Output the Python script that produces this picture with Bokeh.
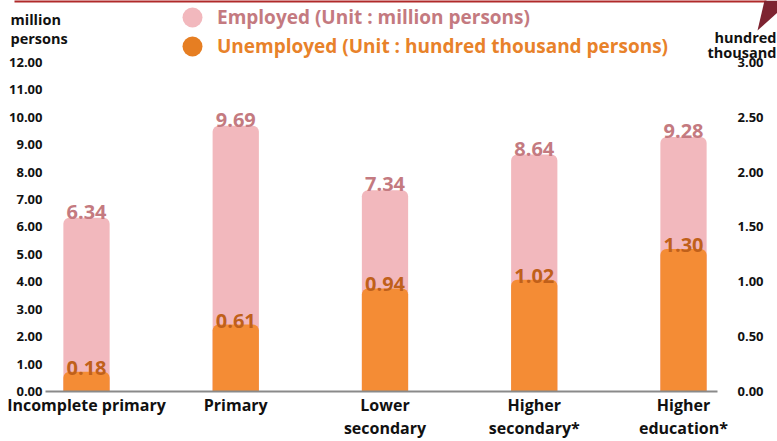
from bokeh.plotting import figure
from bokeh.models import (Range1d, LinearAxis, FixedTicker, PrintfTickFormatter, ColumnDataSource,
                          Label, Legend, LegendItem, PolyAnnotation, BoxAnnotation)
from bokeh.core.properties import value
from bokeh.embed import file_html
from bokeh.resources import INLINE

categories = ["Incomplete primary", "Primary", "Lower\nsecondary", "Higher\nsecondary*", "Higher\neducation*"]
employed = [6.34, 9.69, 7.34, 8.64, 9.28]          # million persons
unemployed = [0.18, 0.61, 0.94, 1.02, 1.30]        # hundred thousand persons
left_ticks = [0, 1, 2, 3, 4, 5, 6, 7, 8, 9, 10, 11, 12]
right_ticks = [0, 0.5, 1.0, 1.5, 2.0, 2.5, 3.0]

FONT = "Open Sans"
PINK = "#f2b8bd"
PINK_TXT = "#c47a80"
ORANGE = "#f48c35"
ORANGE_TXT = "#c0601a"
ORANGE_LEG = "#e8822a"
DARKRED = "#7d2431"
LINE_RED = "#b02a2a"

idx = list(range(len(categories)))
src = ColumnDataSource(dict(
    x=idx, emp=employed, unemp=unemployed,
    emp_lbl=[f"{v:.2f}" for v in employed],
    unemp_lbl=[f"{v:.2f}" for v in unemployed],
))

YTOP = 14.261
p = figure(width=777, height=441, output_backend="svg", toolbar_location=None,
           x_range=Range1d(-0.5762, 4.6298), y_range=Range1d(0, YTOP),
           min_border_left=0, min_border_right=0, min_border_top=0, min_border_bottom=50,
           y_axis_location=None)
p.extra_y_ranges = {"u": Range1d(0, YTOP / 4)}
p.outline_line_color = None
p.xgrid.visible = False
p.ygrid.visible = False

# bars
p.vbar(x="x", top="emp", width=0.31, bottom=0, source=src, fill_color=PINK, line_color=None,
       border_radius=(6, 6, 0, 0))
p.vbar(x="x", top="unemp", width=0.31, bottom=0, source=src, fill_color=ORANGE, line_color=None,
       border_radius=(6, 6, 0, 0), y_range_name="u")

# value labels
p.text(x="x", y="emp", text="emp_lbl", source=src, text_align="center", text_baseline="alphabetic",
       y_offset=-6, text_font=value(FONT), text_font_style="bold", text_font_size="20px",
       text_color=PINK_TXT)
p.text(x="x", y="unemp", text="unemp_lbl", source=src, text_align="center", text_baseline="alphabetic",
       y_offset=-4, text_font=value(FONT), text_font_style="bold", text_font_size="20px",
       text_color=ORANGE_TXT, y_range_name="u")

# y axes (labels pulled inward so the plot frame spans the full canvas)
la = LinearAxis(ticker=FixedTicker(ticks=left_ticks), formatter=PrintfTickFormatter(format="%.2f"))
ra = LinearAxis(y_range_name="u", ticker=FixedTicker(ticks=right_ticks),
                formatter=PrintfTickFormatter(format="%.2f"))
for ax, so in ((la, -42), (ra, -40)):
    ax.axis_line_color = None
    ax.major_tick_line_color = None
    ax.minor_tick_line_color = None
    ax.major_tick_out = 0
    ax.major_tick_in = 0
    ax.major_label_standoff = so
    ax.major_label_text_font = FONT
    ax.major_label_text_font_style = "bold"
    ax.major_label_text_font_size = "13px"
    ax.major_label_text_color = "#111111"
p.add_layout(la, "left")
p.add_layout(ra, "right")

# x axis with category labels
xa = p.xaxis[0]
xa.ticker = FixedTicker(ticks=idx)
xa.bounds = (-0.275, 4.228)
xa.major_label_overrides = {i: c for i, c in zip(idx, categories)}
xa.axis_line_color = "#8a8a8a"
xa.axis_line_width = 2
xa.major_tick_line_color = None
xa.minor_tick_line_color = None
xa.major_tick_out = 0
xa.major_tick_in = 0
xa.major_label_standoff = 2
xa.major_label_text_font = FONT
xa.major_label_text_font_style = "bold"
xa.major_label_text_font_size = "16px"
xa.major_label_text_color = "#111111"
xa.major_label_text_line_height = 1.05

# axis titles
p.add_layout(Label(x=10, y=382, x_units="screen", y_units="screen", text="million\npersons",
                   text_align="left", text_baseline="top", text_font=FONT, text_font_style="bold",
                   text_font_size="14.5px", text_color="#111111", text_line_height=1.0))
p.add_layout(Label(x=776, y=364, x_units="screen", y_units="screen", text="hundred\nthousand",
                   text_align="right", text_baseline="top", text_font=FONT, text_font_style="bold",
                   text_font_size="14.5px", text_color="#111111", text_line_height=0.8))

# legend
nan = float("nan")
r_emp = p.scatter(x=[nan], y=[nan], marker="circle", size=20, fill_color=PINK, line_color=None)
r_un = p.scatter(x=[nan], y=[nan], marker="circle", size=20, fill_color="#e67e22", line_color=None)
for r, lbl, col, vy in ((r_emp, "Employed (Unit : million persons)", PINK_TXT, 349),
                        (r_un, "Unemployed (Unit : hundred thousand persons)", ORANGE_LEG, 320)):
    lg = Legend(items=[LegendItem(label=lbl, renderers=[r])], location=(167, vy),
                glyph_width=50, glyph_height=50, label_standoff=0, padding=0, margin=0,
                spacing=0, background_fill_alpha=0, border_line_alpha=0,
                label_text_font=FONT, label_text_font_style="bold", label_text_font_size="19px",
                label_text_color=col)
    p.add_layout(lg)

# header rule and corner decoration
p.add_layout(BoxAnnotation(left=14, right=766, bottom=389, top=400, left_units="screen",
                           right_units="screen", bottom_units="screen", top_units="screen",
                           fill_color=LINE_RED, fill_alpha=1, line_color=None))
p.add_layout(PolyAnnotation(xs=[757, 764, 777, 777], ys=[361, 391, 391, 379], xs_units="screen",
                            ys_units="screen", fill_color=DARKRED, fill_alpha=1, line_color=None))

open("out.html", "w").write(file_html(p, INLINE))
